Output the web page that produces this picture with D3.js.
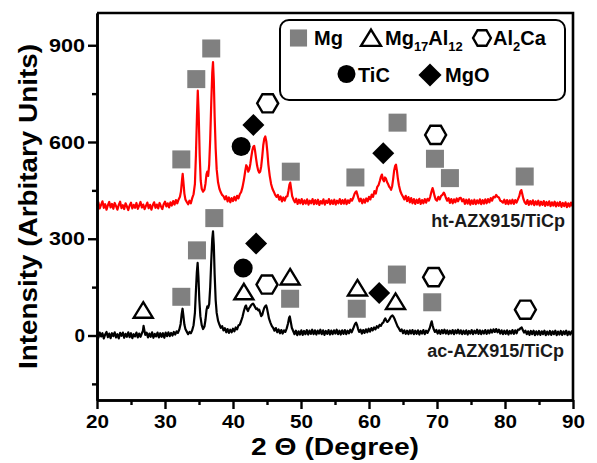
<!doctype html>
<html>
<head>
<meta charset="utf-8">
<script src="https://d3js.org/d3.v7.min.js"></script>
<style>
  body { margin: 0; background: #fff; }
  text { font-family: "Liberation Sans", Arial, sans-serif; font-weight: bold; }
</style>
</head>
<body>
<div id="chart"></div>
<script>
// axis ticks
var xTicks = [20, 30, 40, 50, 60, 70, 80, 90];
var xMinor = [25, 35, 45, 55, 65, 75, 85];
var yTicks = [0, 300, 600, 900];
var yMinor = [-150, 150, 450, 750];

// ht-AZX915/TiCp pattern  [2theta, intensity]
var htData = [
[20.0,402],[20.2,413],[20.4,394],[20.6,405],[20.8,416],[21.0,396],[21.2,407],[21.4,390],[21.6,404],[21.8,414],
[22.0,397],[22.2,408],[22.4,393],[22.6,411],[22.8,401],[23.0,390],[23.2,405],[23.4,415],[23.6,395],[23.8,404],
[24.0,392],[24.2,410],[24.4,400],[24.6,389],[24.8,403],[25.0,412],[25.2,394],[25.4,405],[25.6,396],[25.8,411],
[26.0,393],[26.2,403],[26.4,414],[26.6,397],[26.8,406],[27.0,392],[27.2,402],[27.4,412],[27.6,395],[27.8,405],
[28.0,390],[28.2,404],[28.4,413],[28.6,396],[28.8,406],[29.0,394],[29.2,411],[29.4,401],[29.6,392],[29.8,407],
[30.0,415],[30.2,400],[30.4,410],[30.6,397],[30.8,413],[31.0,403],[31.2,417],[31.4,406],[31.6,420],[31.8,410],
[32.0,422],[32.2,430],[32.35,447],[32.5,482],[32.6,501],[32.7,478],[32.85,440],[33.0,422],[33.2,414],[33.4,407],
[33.6,418],[33.8,410],[34.0,426],[34.2,438],[34.4,470],[34.55,560],[34.7,680],[34.82,759],[34.95,690],[35.1,560],
[35.25,480],[35.4,455],[35.6,446],[35.8,452],[35.95,470],[36.1,500],[36.22,508],[36.35,495],[36.5,530],[36.65,610],
[36.8,720],[36.95,815],[37.06,848],[37.18,790],[37.3,680],[37.45,580],[37.6,515],[37.8,475],[38.0,455],[38.2,444],
[38.4,436],[38.6,432],[38.8,422],[39.0,432],[39.2,416],[39.4,428],[39.6,413],[39.8,426],[40.0,417],[40.2,430],
[40.4,419],[40.6,433],[40.8,425],[41.0,438],[41.2,445],[41.4,460],[41.6,482],[41.8,510],[41.95,528],[42.1,522],
[42.25,508],[42.4,515],[42.55,532],[42.7,555],[42.85,575],[43.0,586],[43.12,588],[43.25,572],[43.4,548],[43.55,526],
[43.7,512],[43.85,505],[44.0,508],[44.15,525],[44.3,555],[44.45,590],[44.6,610],[44.75,617],[44.9,602],[45.05,570],
[45.2,530],[45.4,495],[45.6,470],[45.8,455],[46.0,446],[46.2,436],[46.4,430],[46.6,436],[46.8,421],[47.0,431],
[47.2,416],[47.4,428],[47.6,418],[47.8,430],[48.0,432],[48.15,448],[48.3,468],[48.42,474],[48.55,455],[48.7,432],
[48.9,421],[49.1,413],[49.3,424],[49.5,408],[49.7,421],[49.9,410],[50.1,423],[50.3,407],[50.5,419],[50.7,409],
[50.9,422],[51.1,406],[51.3,418],[51.5,410],[51.7,423],[51.9,407],[52.1,420],[52.3,408],[52.5,421],[52.7,405],
[52.9,417],[53.1,409],[53.3,422],[53.5,406],[53.7,418],[53.9,411],[54.1,423],[54.3,407],[54.5,419],[54.7,408],
[54.9,421],[55.1,406],[55.3,418],[55.5,410],[55.7,423],[55.9,408],[56.1,420],[56.3,409],[56.5,422],[56.7,407],
[56.9,419],[57.1,411],[57.3,423],[57.5,418],[57.7,428],[57.85,438],[58.0,444],[58.15,447],[58.3,436],[58.45,425],
[58.6,416],[58.8,424],[59.0,410],[59.2,422],[59.4,412],[59.6,425],[59.8,416],[60.0,430],[60.2,422],[60.4,437],
[60.6,430],[60.8,448],[61.0,440],[61.2,460],[61.4,466],[61.6,480],[61.75,492],[61.9,499],[62.05,484],[62.2,478],
[62.35,490],[62.5,486],[62.65,476],[62.8,470],[62.95,462],[63.1,458],[63.25,452],[63.4,462],[63.55,485],[63.7,512],
[63.85,526],[63.97,530],[64.1,512],[64.25,486],[64.4,466],[64.6,448],[64.8,438],[65.0,430],[65.2,422],[65.4,433],
[65.6,417],[65.8,429],[66.0,413],[66.2,426],[66.4,410],[66.6,423],[66.8,408],[67.0,421],[67.2,411],[67.4,424],
[67.6,408],[67.8,420],[68.0,410],[68.2,423],[68.4,412],[68.6,424],[68.8,418],[69.0,430],[69.2,447],[69.35,457],
[69.5,446],[69.65,432],[69.8,422],[70.0,418],[70.2,430],[70.4,422],[70.6,433],[70.8,436],[71.0,443],[71.15,437],
[71.3,427],[71.5,418],[71.7,426],[71.9,411],[72.1,423],[72.3,410],[72.5,422],[72.7,413],[72.9,425],[73.1,416],
[73.3,426],[73.5,427],[73.7,416],[73.9,423],[74.1,408],[74.3,421],[74.5,409],[74.7,422],[74.9,406],[75.1,419],
[75.3,408],[75.5,421],[75.7,407],[75.9,419],[76.1,410],[76.3,422],[76.5,407],[76.7,420],[76.9,409],[77.1,422],
[77.3,410],[77.5,423],[77.7,413],[77.9,426],[78.1,418],[78.3,430],[78.5,428],[78.7,436],[78.9,430],[79.1,428],
[79.3,418],[79.5,416],[79.7,412],[79.9,421],[80.1,408],[80.3,420],[80.5,407],[80.7,419],[80.9,409],[81.1,421],
[81.3,408],[81.5,420],[81.7,412],[81.9,422],[82.1,432],[82.25,446],[82.4,451],[82.55,438],[82.7,424],[82.9,413],
[83.1,408],[83.3,420],[83.5,405],[83.7,417],[83.9,407],[84.1,419],[84.3,404],[84.5,416],[84.7,406],[84.9,418],
[85.1,403],[85.3,415],[85.5,405],[85.7,417],[85.9,402],[86.1,414],[86.3,404],[86.5,416],[86.7,401],[86.9,413],
[87.1,403],[87.3,415],[87.5,400],[87.7,412],[87.9,402],[88.1,414],[88.3,399],[88.5,411],[88.7,401],[88.9,413],
[89.1,398],[89.3,410],[89.5,400],[89.7,412],[89.9,402],[90.0,406]
];

// ac-AZX915/TiCp pattern  [2theta, intensity]
var acData = [
[20.0,4],[20.2,-7],[20.4,9],[20.6,-3],[20.8,7],[21.0,-9],[21.2,3],[21.4,11],[21.6,-5],[21.8,6],
[22.0,-8],[22.2,7],[22.4,-2],[22.6,10],[22.8,-6],[23.0,4],[23.2,-9],[23.4,8],[23.6,-1],[23.8,9],
[24.0,-7],[24.2,5],[24.4,-4],[24.6,10],[24.8,-5],[25.0,7],[25.2,-8],[25.4,4],[25.6,-3],[25.8,9],
[26.0,-6],[26.2,6],[26.4,-4],[26.6,7],[26.75,14],[26.85,30],[26.95,18],[27.1,2],[27.3,9],[27.5,-6],
[27.7,6],[27.9,-4],[28.1,10],[28.3,-7],[28.5,5],[28.7,-3],[28.9,9],[29.1,-6],[29.3,7],[29.5,-4],
[29.7,7],[29.9,-7],[30.1,9],[30.3,-2],[30.5,10],[30.7,-2],[30.9,8],[31.1,0],[31.3,11],[31.5,3],
[31.7,13],[31.9,8],[32.1,18],[32.3,36],[32.45,66],[32.58,83],[32.7,62],[32.85,34],[33.0,20],[33.2,12],
[33.4,4],[33.6,11],[33.8,7],[34.0,16],[34.2,32],[34.4,70],[34.55,140],[34.68,195],[34.8,225],[34.92,180],
[35.05,110],[35.2,60],[35.4,32],[35.6,20],[35.8,28],[35.95,48],[36.1,78],[36.22,90],[36.35,86],[36.5,98],
[36.65,150],[36.8,230],[36.95,300],[37.06,323],[37.18,280],[37.3,190],[37.45,110],[37.6,70],[37.8,46],[38.0,34],
[38.2,24],[38.4,29],[38.6,16],[38.8,23],[39.0,10],[39.2,20],[39.4,8],[39.6,18],[39.8,10],[40.0,21],
[40.2,13],[40.4,25],[40.6,19],[40.8,31],[41.0,34],[41.2,45],[41.4,58],[41.6,76],[41.8,90],[41.92,93],
[42.05,82],[42.2,76],[42.35,84],[42.5,88],[42.65,94],[42.8,97],[42.95,99],[43.1,94],[43.25,88],[43.4,82],
[43.55,84],[43.7,78],[43.85,80],[44.0,70],[44.15,60],[44.3,64],[44.45,76],[44.6,86],[44.75,91],[44.88,93],
[45.0,84],[45.15,68],[45.3,52],[45.5,40],[45.7,30],[45.9,24],[46.1,15],[46.3,23],[46.5,10],[46.7,19],
[46.9,7],[47.1,17],[47.3,6],[47.5,16],[47.7,11],[47.9,22],[48.1,38],[48.25,55],[48.35,59],[48.5,42],
[48.65,24],[48.85,14],[49.05,4],[49.25,15],[49.45,1],[49.65,13],[49.85,3],[50.05,16],[50.25,2],[50.45,14],
[50.65,4],[50.85,17],[51.05,3],[51.25,15],[51.45,5],[51.65,18],[51.85,4],[52.05,16],[52.25,3],[52.45,15],
[52.65,6],[52.85,18],[53.05,4],[53.25,16],[53.45,2],[53.65,14],[53.85,5],[54.05,17],[54.25,3],[54.45,15],
[54.65,4],[54.85,16],[55.05,6],[55.25,18],[55.45,4],[55.65,15],[55.85,3],[56.05,16],[56.25,5],[56.45,17],
[56.65,4],[56.85,15],[57.05,7],[57.25,18],[57.45,10],[57.65,20],[57.8,28],[57.95,36],[58.1,40],[58.25,32],
[58.4,20],[58.55,11],[58.75,18],[58.95,6],[59.15,17],[59.35,8],[59.55,19],[59.75,10],[59.95,21],[60.15,12],
[60.35,23],[60.55,16],[60.75,25],[60.95,19],[61.15,29],[61.35,24],[61.55,33],[61.75,30],[61.95,38],[62.1,40],
[62.25,48],[62.4,53],[62.55,46],[62.7,42],[62.85,45],[63.0,50],[63.15,56],[63.3,60],[63.45,62],[63.6,58],
[63.75,52],[63.9,44],[64.05,36],[64.2,28],[64.4,22],[64.6,14],[64.8,19],[65.0,7],[65.2,16],[65.4,5],
[65.6,15],[65.8,4],[66.0,16],[66.2,6],[66.4,17],[66.6,4],[66.8,15],[67.0,5],[67.2,16],[67.4,3],
[67.6,14],[67.8,6],[68.0,17],[68.2,4],[68.4,15],[68.6,8],[68.8,17],[68.95,24],[69.1,36],[69.22,44],
[69.35,32],[69.5,20],[69.7,11],[69.9,17],[70.1,6],[70.3,16],[70.5,5],[70.7,17],[70.9,7],[71.1,18],
[71.3,6],[71.5,16],[71.7,4],[71.9,15],[72.1,6],[72.3,17],[72.5,4],[72.7,16],[72.9,7],[73.1,18],
[73.3,6],[73.5,16],[73.7,4],[73.9,15],[74.1,5],[74.3,16],[74.5,3],[74.7,14],[74.9,6],[75.1,17],
[75.3,4],[75.5,15],[75.7,7],[75.9,18],[76.1,5],[76.3,16],[76.5,4],[76.7,15],[76.9,6],[77.1,17],
[77.3,5],[77.5,16],[77.7,7],[77.9,18],[78.1,9],[78.3,19],[78.5,11],[78.7,20],[78.9,10],[79.1,18],
[79.3,6],[79.5,16],[79.7,4],[79.9,15],[80.1,5],[80.3,16],[80.5,3],[80.7,14],[80.9,6],[81.1,17],
[81.3,5],[81.5,16],[81.7,7],[81.9,18],[82.1,18],[82.3,23],[82.45,25],[82.6,18],[82.8,9],[83.0,15],
[83.2,4],[83.4,13],[83.6,2],[83.8,14],[84.0,4],[84.2,15],[84.4,1],[84.6,13],[84.8,3],[85.0,14],
[85.2,2],[85.4,13],[85.6,4],[85.8,15],[86.0,1],[86.2,12],[86.4,3],[86.6,14],[86.8,2],[87.0,13],
[87.2,4],[87.4,15],[87.6,1],[87.8,12],[88.0,3],[88.2,14],[88.4,2],[88.6,13],[88.8,4],[89.0,15],
[89.2,1],[89.4,12],[89.6,3],[89.8,13],[90.0,6]
];

// phase markers [phase, 2theta, intensity]
var htMarkers = [
["Mg",32.4,546],["Mg",34.6,795],["Mg",36.8,890],["TiC",41.2,586],["MgO",43.0,653],
["Al2Ca",45.1,720],["Mg",48.5,508],["Mg",58.0,490],["MgO",62.1,565],["Mg",64.2,660],
["Al2Ca",69.8,622],["Mg",69.7,548],["Mg",71.9,488],["Mg",82.9,493]
];
var acMarkers = [
["Mg17Al12",26.8,80],["Mg",32.4,120],["Mg",34.7,264],["Mg",37.25,364],["TiC",41.5,209],
["MgO",43.4,285],["Mg17Al12",41.6,137],["Al2Ca",45.0,158],["Mg17Al12",48.4,183],["Mg",48.4,114],
["Mg17Al12",58.3,149],["Mg",58.2,83],["MgO",61.5,132],["Mg",64.1,189],["Mg17Al12",63.9,107],
["Al2Ca",69.5,181],["Mg",69.3,103],["Al2Ca",83.0,80]
];

var W = 597, H = 463;
var padL = 97, padR = 573, padT = 13, padB = 400;

var svg = d3.select("#chart").append("svg")
    .attr("width", W).attr("height", H);

var x = d3.scaleLinear().domain([20, 90]).range([padL, padR]);
var y = d3.scaleLinear().domain([-200, 1000]).range([padB, padT]);

var line = d3.line()
    .x(function(d) { return x(d[0]); })
    .y(function(d) { return y(d[1]); });

svg.append("path").datum(acData)
    .attr("d", line).attr("fill", "none")
    .attr("stroke", "#000").attr("stroke-width", 2.2).attr("stroke-linejoin", "round");
svg.append("path").datum(htData)
    .attr("d", line).attr("fill", "none")
    .attr("stroke", "#ff0000").attr("stroke-width", 2.2).attr("stroke-linejoin", "round");

// marker shapes
function hexPath(r) {
  var p = [];
  for (var i = 0; i < 6; i++) {
    var a = Math.PI / 3 * i;
    p.push([r * Math.cos(a), r * Math.sin(a)]);
  }
  return "M" + p.map(function(q) { return q[0].toFixed(2) + "," + q[1].toFixed(2); }).join("L") + "Z";
}
function drawMarker(g, phase, cx, cy, s) {
  s = s || 1;
  var m = g.append("g").attr("transform", "translate(" + cx + "," + cy + ")");
  if (phase == "Mg") {
    m.append("rect").attr("x", -9 * s).attr("y", -9 * s)
      .attr("width", 18 * s).attr("height", 18 * s).attr("fill", "#808080");
  } else if (phase == "Mg17Al12") {
    m.append("path").attr("d", "M0," + (-7.5 * s) + "L" + (9.5 * s) + "," + (8 * s) + "L" + (-9.5 * s) + "," + (8 * s) + "Z")
      .attr("fill", "#fff").attr("stroke", "#000").attr("stroke-width", 2.4).attr("stroke-linejoin", "miter");
  } else if (phase == "Al2Ca") {
    m.append("path").attr("d", hexPath(10.5 * s))
      .attr("fill", "#fff").attr("stroke", "#000").attr("stroke-width", 2.4);
  } else if (phase == "TiC") {
    m.append("circle").attr("r", 9.5 * s).attr("fill", "#000");
  } else if (phase == "MgO") {
    var d = 11 * s;
    m.append("path").attr("d", "M0," + (-d) + "L" + d + ",0L0," + d + "L" + (-d) + ",0Z").attr("fill", "#000");
  }
}

var mk = svg.append("g");
htMarkers.concat(acMarkers).forEach(function(d) {
  drawMarker(mk, d[0], x(d[1]), y(d[2]));
});

// series labels
svg.append("text").attr("x", 565).attr("y", 227).attr("text-anchor", "end")
  .attr("font-size", 18).attr("fill", "#1a1a1a").text("ht-AZX915/TiCp");
svg.append("text").attr("x", 564).attr("y", 357).attr("text-anchor", "end")
  .attr("font-size", 18).attr("fill", "#1a1a1a").text("ac-AZX915/TiCp");

// axes
var xAxis = svg.append("g").attr("transform", "translate(0," + padB + ")")
  .call(d3.axisBottom(x).tickValues(xTicks).tickSize(9).tickSizeOuter(0).tickPadding(6));
svg.append("g").attr("transform", "translate(0," + padB + ")")
  .call(d3.axisBottom(x).tickValues(xMinor).tickSize(5).tickSizeOuter(0).tickFormat(""));
var yAxis = svg.append("g").attr("transform", "translate(" + padL + ",0)")
  .call(d3.axisLeft(y).tickValues(yTicks).tickSize(9).tickSizeOuter(0).tickPadding(3));
svg.append("g").attr("transform", "translate(" + padL + ",0)")
  .call(d3.axisLeft(y).tickValues(yMinor).tickSize(5).tickSizeOuter(0).tickFormat(""));

svg.selectAll(".domain").attr("stroke", "#000").attr("stroke-width", 2.6);
svg.selectAll(".tick line").attr("stroke", "#000").attr("stroke-width", 2.4);
svg.selectAll(".tick text").attr("fill", "#000").attr("font-size", 19)
  .attr("font-family", "'Liberation Sans', Arial, sans-serif").attr("font-weight", "bold");
xAxis.selectAll(".tick text")
  .attr("textLength", 23).attr("lengthAdjust", "spacingAndGlyphs");
yAxis.selectAll(".tick text").each(function() {
  var t = d3.select(this);
  if (t.text().length > 1) t.attr("textLength", 12 * t.text().length).attr("lengthAdjust", "spacingAndGlyphs");
});

// top / right frame
svg.append("path")
  .attr("d", "M" + padL + "," + padT + "H" + padR + "V" + padB)
  .attr("fill", "none").attr("stroke", "#000").attr("stroke-width", 2.6);

// axis titles
svg.append("text").attr("x", (padL + padR) / 2).attr("y", 455)
  .attr("text-anchor", "middle").attr("font-size", 23)
  .attr("textLength", 168).attr("lengthAdjust", "spacingAndGlyphs")
  .text("2 \u0398  (Degree)");
svg.append("text")
  .attr("transform", "translate(37," + ((padT + padB) / 2) + ") rotate(-90)")
  .attr("text-anchor", "middle").attr("font-size", 26)
  .attr("textLength", 325).attr("lengthAdjust", "spacingAndGlyphs")
  .text("Intensity (Arbitary Units)");

// legend
var lg = svg.append("g");
lg.append("rect").attr("x", 280).attr("y", 20).attr("width", 285).attr("height", 80)
  .attr("rx", 9).attr("fill", "#fff").attr("stroke", "#000").attr("stroke-width", 2);
drawMarker(lg, "Mg", 298.5, 38, 0.95);
drawMarker(lg, "Mg17Al12", 371, 37.5, 1.05);
drawMarker(lg, "Al2Ca", 482, 38, 0.85);
drawMarker(lg, "TiC", 346.5, 74, 0.95);
drawMarker(lg, "MgO", 430, 75, 1.05);

lg.append("text").attr("x", 314).attr("y", 45).attr("font-size", 20).text("Mg");
var t1 = lg.append("text").attr("x", 385).attr("y", 45).attr("font-size", 20);
t1.append("tspan").text("Mg");
t1.append("tspan").attr("font-size", 13).attr("dy", 6).text("17");
t1.append("tspan").attr("dy", -6).text("Al");
t1.append("tspan").attr("font-size", 13).attr("dy", 6).text("12");
var t2 = lg.append("text").attr("x", 493).attr("y", 45).attr("font-size", 20);
t2.append("tspan").text("Al");
t2.append("tspan").attr("font-size", 13).attr("dy", 6).text("2");
t2.append("tspan").attr("dy", -6).text("Ca");
lg.append("text").attr("x", 358).attr("y", 82).attr("font-size", 20).text("TiC");
lg.append("text").attr("x", 445).attr("y", 82).attr("font-size", 20).text("MgO");
</script>
</body>
</html>
